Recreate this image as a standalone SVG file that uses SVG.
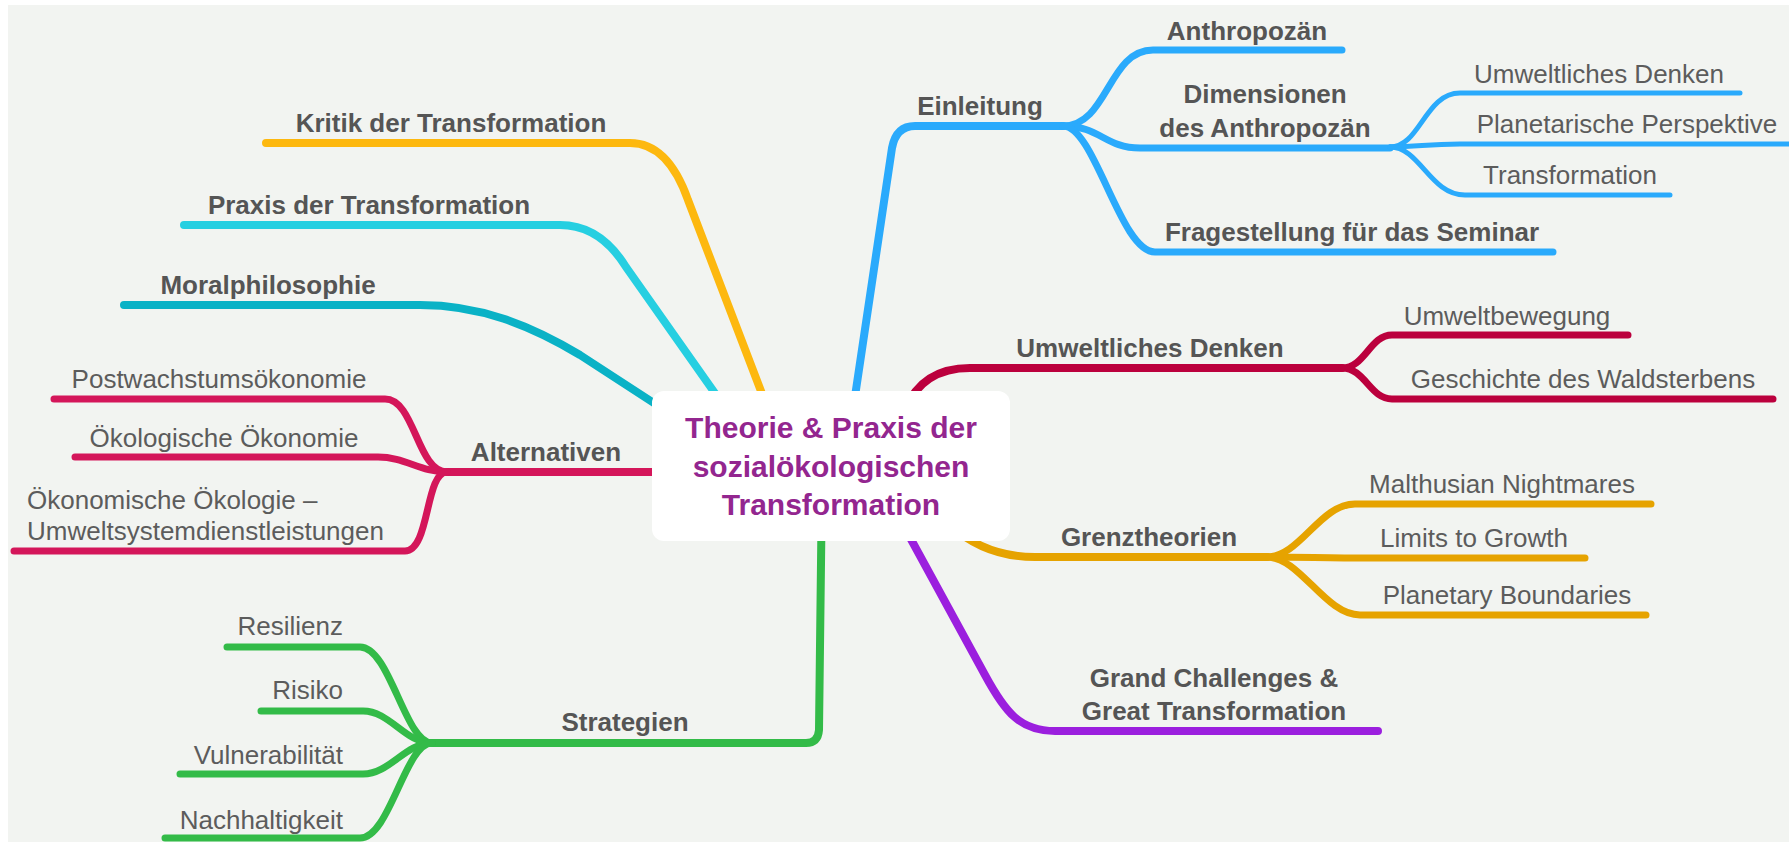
<svg xmlns="http://www.w3.org/2000/svg" width="1789" height="842" viewBox="0 0 1789 842">
  <style>
    .lbl { font-family: "Liberation Sans", Arial, Helvetica, sans-serif; font-size: 26px; fill: #5c5c5c; text-anchor: middle; }
    .b { font-weight: bold; fill: #555555; }
    .title { font-family: "Liberation Sans", Arial, Helvetica, sans-serif; font-size: 30px; font-weight: bold; fill: #93268f; text-anchor: middle; }
    .ln { fill: none; stroke-linecap: round; stroke-linejoin: round; }
    .l1 { stroke-width: 8; }
    .l2 { stroke-width: 7; }
    .l3 { stroke-width: 5; }
    .kritik { stroke: #fdb80f; }
    .praxis { stroke: #26cfe1; }
    .moral { stroke: #0ab2c6; }
    .alt { stroke: #d4165a; }
    .strat { stroke: #33bb48; }
    .einl { stroke: #2aaafc; }
    .umw { stroke: #bb003d; }
    .grenz { stroke: #e6a300; }
    .grand { stroke: #9b1fde; }
  </style>

  <!-- canvas -->
  <rect x="0" y="0" width="1789" height="842" fill="#ffffff"/>
  <rect x="8" y="5" width="1781" height="837" fill="#f2f4f1"/>

  <g id="connectors">
    <!-- left main branches -->
    <path class="ln l1 kritik" d="M266,143 H630 Q668,143 688,200 L772,420"/>
    <path class="ln l1 praxis" d="M184,225 H560 Q600,225 626,267 L755,450"/>
    <path class="ln l1 moral" d="M124,305 H420 C480,305 530,325 580,355 L680,420"/>
    <path class="ln l1 alt" d="M690,472 H447"/>
    <path class="ln l1 strat" d="M822,480 L819,730 Q818,743 806,743 H432"/>

    <!-- Alternativen children -->
    <path class="ln l2 alt" d="M447,472 C417,472 415,399 385,399 H54"/>
    <path class="ln l2 alt" d="M447,472 C420,472 405,457 378,457 H75"/>
    <path class="ln l2 alt" d="M447,472 C425,472 430,551 405,551 H14"/>

    <!-- Strategien children -->
    <path class="ln l2 strat" d="M432,743 C405,743 390,647 360,647 H227"/>
    <path class="ln l2 strat" d="M432,743 C405,743 390,711 363,711 H261"/>
    <path class="ln l2 strat" d="M432,743 C405,743 390,774 363,774 H180"/>
    <path class="ln l2 strat" d="M432,743 C405,743 390,838 360,838 H165"/>

    <!-- Einleitung -->
    <path class="ln l1 einl" d="M850,430 L892,148 Q896,126 915,126 H1063"/>
    <path class="ln l2 einl" d="M1063,126 C1108,126 1108,50 1153,50 H1342"/>
    <path class="ln l2 einl" d="M1063,126 C1100,126 1105,148 1140,148 H1390"/>
    <path class="ln l2 einl" d="M1063,126 C1095,126 1120,252 1155,252 H1553"/>
    <path class="ln l3 einl" d="M1390,147 C1420,147 1425,93 1460,93 H1740"/>
    <path class="ln l3 einl" d="M1390,147 C1420,147 1425,144 1460,144 H1792"/>
    <path class="ln l3 einl" d="M1390,147 C1420,147 1430,195 1465,195 H1670"/>

    <!-- Umweltliches Denken -->
    <path class="ln l1 umw" d="M905,410 C915,385 935,368 970,368 H1342"/>
    <path class="ln l2 umw" d="M1342,368 C1365,368 1370,335 1392,335 H1628"/>
    <path class="ln l2 umw" d="M1342,368 C1365,368 1370,399 1392,399 H1773"/>

    <!-- Grenztheorien -->
    <path class="ln l1 grenz" d="M950,525 Q985,557 1035,557 H1267"/>
    <path class="ln l2 grenz" d="M1267,557 C1300,557 1320,504 1355,504 H1651"/>
    <path class="ln l2 grenz" d="M1267,557 C1300,557 1330,558 1367,558 H1585"/>
    <path class="ln l2 grenz" d="M1267,557 C1300,557 1325,615 1360,615 H1646"/>

    <!-- Grand Challenges -->
    <path class="ln l1 grand" d="M895,510 L985,675 C1005,712 1020,731 1055,731 H1378"/>
  </g>

  <g id="center">
    <rect x="652" y="391" width="358" height="150" rx="12" fill="#ffffff"/>
    <text class="title" x="831" y="438">Theorie &amp; Praxis der</text>
    <text class="title" x="831" y="477">sozialökologischen</text>
    <text class="title" x="831" y="515">Transformation</text>
  </g>

  <g id="kritik"><text class="lbl b" x="451" y="132">Kritik der Transformation</text></g>
  <g id="praxis"><text class="lbl b" x="369" y="214">Praxis der Transformation</text></g>
  <g id="moral"><text class="lbl b" x="268" y="294">Moralphilosophie</text></g>

  <g id="alternativen"><text class="lbl b" x="546" y="461">Alternativen</text></g>
  <g id="postwachstum"><text class="lbl" x="219" y="388">Postwachstumsökonomie</text></g>
  <g id="oekol-oekonomie"><text class="lbl" x="224" y="447">Ökologische Ökonomie</text></g>
  <g id="oekon-oekologie">
    <text class="lbl" x="27" y="509" style="text-anchor:start">Ökonomische Ökologie –</text>
    <text class="lbl" x="27" y="540" style="text-anchor:start">Umweltsystemdienstleistungen</text>
  </g>

  <g id="strategien"><text class="lbl b" x="625" y="731">Strategien</text></g>
  <g id="resilienz"><text class="lbl" x="343" y="635" style="text-anchor:end">Resilienz</text></g>
  <g id="risiko"><text class="lbl" x="343" y="699" style="text-anchor:end">Risiko</text></g>
  <g id="vulnerabilitaet"><text class="lbl" x="343" y="764" style="text-anchor:end">Vulnerabilität</text></g>
  <g id="nachhaltigkeit"><text class="lbl" x="343" y="829" style="text-anchor:end">Nachhaltigkeit</text></g>

  <g id="einleitung"><text class="lbl b" x="980" y="115">Einleitung</text></g>
  <g id="anthropozaen"><text class="lbl b" x="1247" y="40">Anthropozän</text></g>
  <g id="dimensionen">
    <text class="lbl b" x="1265" y="103">Dimensionen</text>
    <text class="lbl b" x="1265" y="137">des Anthropozän</text>
  </g>
  <g id="fragestellung"><text class="lbl b" x="1352" y="241">Fragestellung für das Seminar</text></g>
  <g id="dim-umweltdenken"><text class="lbl" x="1599" y="83">Umweltliches Denken</text></g>
  <g id="dim-planetarisch"><text class="lbl" x="1627" y="133">Planetarische Perspektive</text></g>
  <g id="dim-transformation"><text class="lbl" x="1570" y="184">Transformation</text></g>

  <g id="umweltdenken"><text class="lbl b" x="1150" y="357">Umweltliches Denken</text></g>
  <g id="umweltbewegung"><text class="lbl" x="1507" y="325">Umweltbewegung</text></g>
  <g id="waldsterben"><text class="lbl" x="1583" y="388">Geschichte des Waldsterbens</text></g>

  <g id="grenztheorien"><text class="lbl b" x="1149" y="546">Grenztheorien</text></g>
  <g id="malthusian"><text class="lbl" x="1502" y="493">Malthusian Nightmares</text></g>
  <g id="limits"><text class="lbl" x="1474" y="547">Limits to Growth</text></g>
  <g id="boundaries"><text class="lbl" x="1507" y="604">Planetary Boundaries</text></g>

  <g id="grand-challenges">
    <text class="lbl b" x="1214" y="687">Grand Challenges &amp;</text>
    <text class="lbl b" x="1214" y="720">Great Transformation</text>
  </g>
</svg>
